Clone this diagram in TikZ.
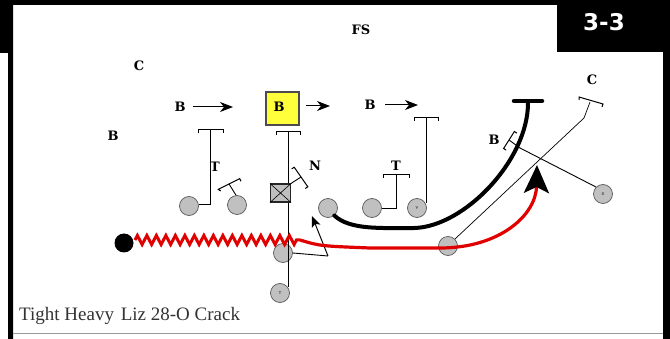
\documentclass[tikz,border=0pt]{standalone}
\usepackage{fontspec}
\setmainfont{Liberation Serif}
\newfontfamily\lblfont{DejaVu Serif}
\newfontfamily\numfont{DejaVu Sans}
\usetikzlibrary{arrows.meta,decorations.pathmorphing}
\definecolor{pgray}{RGB}{192,192,192}
\definecolor{pred}{RGB}{225,0,0}
\definecolor{pyellow}{RGB}{255,255,60}
\begin{document}
\begin{tikzpicture}[x=1pt,y=-1pt,
  player/.style={circle,fill=pgray,draw=black!65,line width=0.7pt,minimum size=19pt,inner sep=0pt,font=\sffamily\fontsize{4}{4}\selectfont},
  lbl/.style={font=\lblfont\bfseries\fontsize{13}{13}\selectfont,inner sep=0pt},
  thin/.style={line width=0.9pt,black},
  motion/.style={line width=1pt,black,-{Stealth[length=11pt,width=9pt,inset=2.5pt]}},
  blockbar/.style={line width=1pt,black},
  barrow/.style={line width=1pt,-{Stealth[length=13pt,width=10pt,inset=4pt]}}
]
\useasboundingbox (0,0) rectangle (670,339);
% frame
\fill[white] (0,0) rectangle (670,339);
\fill[black] (0,0) -- (670,0) -- (670,339) -- (663,339) -- (663,52) -- (557,52) -- (557,5) -- (13,5) -- (13,339) -- (8,339) -- (8,53) -- (0,53) -- cycle;
\draw[black!40,line width=0.8pt] (13,333.5) -- (663,333.5);
\node[font=\numfont\bfseries\fontsize{23}{23}\selectfont,text=white,inner sep=0pt] (num) at (604,22) {3-3};

% defense labels
\node[lbl] (fs) at (361,30) {FS};
\node[lbl] (cl) at (139,66) {C};
\node[lbl] (bl) at (113,136) {B};
\node[lbl] (b1) at (180,107) {B};
\coordinate (b1a) at (193,107);
\coordinate (b1b) at (233,107);
\draw[barrow] (b1a) -- (b1b);
\node[draw=black!70,line width=1.2pt,fill=pyellow,minimum width=33pt,minimum height=33pt,inner sep=0pt] (ybox) at (282.5,108.5) {};
\node[lbl] (b2) at (279,107) {B};
\coordinate (b2a) at (306,106);
\coordinate (b2b) at (330,106);
\draw[barrow] (b2a) -- (b2b);
\node[lbl] (b3) at (370,105) {B};
\coordinate (b3a) at (385,105);
\coordinate (b3b) at (418,105);
\draw[barrow] (b3a) -- (b3b);
\node[lbl] (t1) at (215,167) {T};
\node[lbl] (nl) at (315,166) {N};
\node[lbl] (t2) at (396,166) {T};
\node[lbl] (b4) at (494,140) {B};
\node[lbl] (c2) at (592,80) {C};

% players
\node[player] (p1) at (189,206) {};
\node[player] (p2) at (237,205) {};
\node[player] (p3) at (283,253) {};
\node[player] (p4) at (280,293) {T};
\node[player] (p5) at (328,208) {};
\node[player] (p6) at (372,208) {};
\node[player] (p7) at (417,208) {Y};
\node[player] (p9) at (603,194) {X};
\node[circle,fill=black,minimum size=19pt,inner sep=0pt] (ball) at (124,243) {};

% p1 block
\coordinate (k1) at (210,130);
\coordinate (k1c) at (210,204);
\draw[thin] (p1.east |- k1c) -- (k1c) -- (k1);
\draw[blockbar] (198,133) -- (198,130) -- (223,130) -- (223,133);
% p2 block
\coordinate (k2) at (229,184);
\draw[thin] (p2.north) ++(-1,0) -- (k2);
\draw[blockbar] (220.8,191.0) -- (218.3,189.4) -- (239.7,178.6) -- (241.0,181.3);
% center vertical
\coordinate (k3) at (288,132);
\coordinate (k3b) at (288,287);
\draw[thin] (k3) -- (k3b);
\draw[blockbar] (276,135) -- (276,132) -- (300,132) -- (300,135);
% crossed box
\node[draw=black!85,line width=1.1pt,fill=black!25,minimum width=20pt,minimum height=18pt,inner sep=0pt] (cbox) at (280.5,193) {};
\draw[line width=0.6pt] (cbox.north west) -- (cbox.south east) (cbox.north east) -- (cbox.south west);
% N block
\coordinate (k4) at (301,177);
\draw[thin] (cbox.north east) -- (k4);
\draw[blockbar] (291.7,168.9) -- (294.2,167.2) -- (307.8,186.8) -- (305.3,188.5);
% p6 block
\coordinate (k5) at (396,175);
\coordinate (k5c) at (396,208);
\draw[thin] (p6.east |- k5c) -- (k5c) -- (k5);
\draw[blockbar] (383,178) -- (383,175) -- (409,175) -- (409,178);
% p7 block
\coordinate (k6) at (426,118);
\coordinate (k6c) at (426,203);
\draw[thin] (k6c) -- (k6);
\draw[blockbar] (414,121) -- (414,118) -- (438,118) -- (438,121);

% p3 motion to arrow
\coordinate (m1) at (328,256);
\coordinate (m2) at (312,216);
\draw[thin] (p3.east) -- (m1);
\draw[motion] (m1) -- (m2);

% X block
\coordinate (k7) at (520,148);
\coordinate (k7b) at (509,140);
\draw[thin] (p9.north west) -- (k7) -- (k7b);
\draw[blockbar] (506.1,150.1) -- (503.6,148.5) -- (514.4,131.5) -- (516.9,133.1);

% black thick route
\coordinate (r1) at (415,228);
\coordinate (r2) at (528,103);
\draw[line width=4pt,black,line cap=round] (p5.-50) .. controls (350,230) and (380,228) .. (r1) .. controls (465,226) and (528,160) .. (r2);
\draw[line width=4.5pt,black,line cap=round] (514,101) -- (542,101);

% p8 and its block line
\node[player] (p8) at (448,246) {};
\coordinate (k8) at (584,118);
\coordinate (k8b) at (590,102);
\draw[line width=0.7pt] (p8.north east) -- (k8) -- (k8b);
\draw[blockbar] (579,100) -- (579,97) -- (603,104) -- (602,107);

% red route with zigzag
\coordinate (z1) at (135,240);
\coordinate (z2) at (300,240);
\coordinate (r3) at (370,248);
\coordinate (r4) at (440,248);
\coordinate (r5) at (537,165);
\draw[pred,line width=3pt,decorate,decoration={zigzag,segment length=9.5pt,amplitude=4.5pt}] (z1) -- (z2);
\draw[pred,line width=3.2pt,-{Stealth[length=28pt,width=25pt,inset=6pt,color=black]}] (z2) .. controls (320,246) .. (r3) -- (r4) .. controls (500,248) and (536,215) .. (r5);

% caption
\node[font=\fontsize{19}{19}\selectfont,anchor=west,inner sep=0pt,text=black!80] (cap) at (19,316) {Tight Heavy\hspace{2pt} Liz 28-O Crack};
\end{tikzpicture}
\end{document}
